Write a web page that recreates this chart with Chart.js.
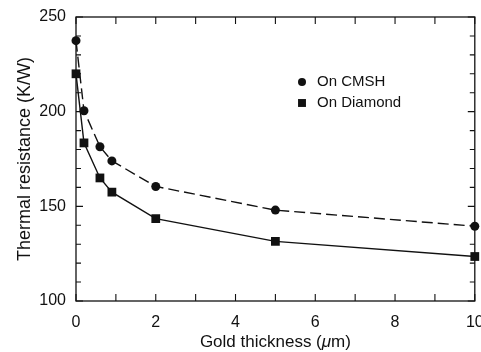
<!DOCTYPE html>
<html>
<head>
<meta charset="utf-8">
<script src="https://cdn.jsdelivr.net/npm/chart.js@4/dist/chart.umd.min.js"></script>
<style>
  html, body { margin: 0; padding: 0; background: #fff; overflow: hidden; }
  #wrap { width: 481px; height: 352px; }
</style>
</head>
<body>
<div id="wrap"><canvas id="resChart" width="481" height="352"></canvas></div>
<script>
// gold layer thickness (um) and thermal resistance (K/W) for each substrate
const thickness = [0, 0.2, 0.6, 0.9, 2, 5, 10];
const onCmsh = [237.5, 200.5, 181.5, 174, 160.5, 148, 139.5];
const onDiamond = [220, 183.5, 165, 157.5, 143.5, 131.5, 123.5];
const seriesNames = ["On CMSH", "On Diamond"];
const xTicks = [0, 2, 4, 6, 8, 10];
const yTicks = [100, 150, 200, 250];

const ink = "#111";
const FONT = "'Liberation Sans', Arial, Helvetica, sans-serif";

function toPoints(xs, ys) {
    return xs.map((x, i) => ({ x: x, y: ys[i] }));
}

// box with inward ticks on all four sides
const framePlugin = {
    id: "frame",
    beforeDatasetsDraw(chart) {
        const { ctx, chartArea: a, scales: { x, y } } = chart;
        ctx.save();
        ctx.strokeStyle = ink;
        ctx.lineWidth = 1.3;
        ctx.strokeRect(a.left, a.top, a.right - a.left, a.bottom - a.top);
        ctx.lineWidth = 1.1;
        ctx.beginPath();
        for (let v = x.min; v <= x.max; v += 1) {
            const px = x.getPixelForValue(v);
            ctx.moveTo(px, a.bottom); ctx.lineTo(px, a.bottom - 7);
            ctx.moveTo(px, a.top); ctx.lineTo(px, a.top + 7);
        }
        for (let v = y.min; v <= y.max; v += 10) {
            const py = y.getPixelForValue(v);
            const len = v % 50 === 0 ? 7 : 5;
            ctx.moveTo(a.left, py); ctx.lineTo(a.left + len, py);
            ctx.moveTo(a.right, py); ctx.lineTo(a.right - len, py);
        }
        ctx.stroke();
        ctx.restore();
    }
};

// legend placed inside the plot, plus the x title with an italic mu
const labelsPlugin = {
    id: "labels",
    afterDraw(chart) {
        const ctx = chart.ctx;
        ctx.save();
        ctx.fillStyle = ink;
        ctx.strokeStyle = ink;
        ctx.textBaseline = "middle";
        ctx.textAlign = "left";
        ctx.font = "15px " + FONT;
        chart.data.datasets.forEach((ds, i) => {
            const cy = 82 + i * 21;
            Chart.helpers.drawPoint(ctx, {
                pointStyle: ds.pointStyle,
                radius: ds.pointStyle === "rect" ? 5.6 : 4,
                borderWidth: 0
            }, 302, cy);
            ctx.fillText(ds.label, 317, cy);
        });

        const parts = [
            ["Gold thickness (", "17px " + FONT],
            ["\u03bc", "italic 17px " + FONT],
            ["m)", "17px " + FONT]
        ];
        let total = 0;
        parts.forEach(p => { ctx.font = p[1]; total += ctx.measureText(p[0]).width; });
        let tx = (chart.chartArea.left + chart.chartArea.right) / 2 - total / 2;
        parts.forEach(p => {
            ctx.font = p[1];
            ctx.fillText(p[0], tx, 342);
            tx += ctx.measureText(p[0]).width;
        });
        ctx.restore();
    }
};

new Chart(document.getElementById("resChart"), {
    type: "line",
    data: {
        datasets: [
            {
                label: seriesNames[0],
                data: toPoints(thickness, onCmsh),
                borderColor: ink,
                backgroundColor: ink,
                borderWidth: 1.4,
                borderDash: [11, 5],
                pointStyle: "circle",
                pointRadius: 4.5,
                pointBorderWidth: 0,
                clip: false
            },
            {
                label: seriesNames[1],
                data: toPoints(thickness, onDiamond),
                borderColor: ink,
                backgroundColor: ink,
                borderWidth: 1.4,
                pointStyle: "rect",
                pointRadius: 6.2,
                pointBorderWidth: 0,
                clip: false
            }
        ]
    },
    options: {
        responsive: false,
        animation: false,
        devicePixelRatio: 1,
        layout: { padding: { left: 0, right: 5, top: 17, bottom: 0 } },
        plugins: {
            legend: { display: false },
            tooltip: { enabled: false }
        },
        scales: {
            x: {
                type: "linear",
                min: 0,
                max: 10,
                grid: { display: false, drawTicks: false, tickLength: 0 },
                border: { display: false },
                afterBuildTicks(s) { s.ticks = xTicks.map(v => ({ value: v })); },
                afterFit(s) { s.height = 51; s.paddingLeft = 0; s.paddingRight = 0; },
                ticks: {
                    color: ink,
                    padding: 12,
                    maxRotation: 0,
                    font: { family: FONT, size: 16 }
                }
            },
            y: {
                type: "linear",
                min: 100,
                max: 250,
                grid: { display: false, drawTicks: false, tickLength: 0 },
                border: { display: false },
                afterBuildTicks(s) { s.ticks = yTicks.map(v => ({ value: v })); },
                afterFit(s) { s.width = 76; s.paddingTop = 0; s.paddingBottom = 0; },
                ticks: {
                    color: ink,
                    padding: 10,
                    font: { family: FONT, size: 16 }
                },
                title: {
                    display: true,
                    text: "Thermal resistance (K/W)",
                    color: ink,
                    padding: { top: 14, bottom: 0 },
                    font: { family: FONT, size: 18 }
                }
            }
        }
    },
    plugins: [framePlugin, labelsPlugin]
});
</script>
</body>
</html>
